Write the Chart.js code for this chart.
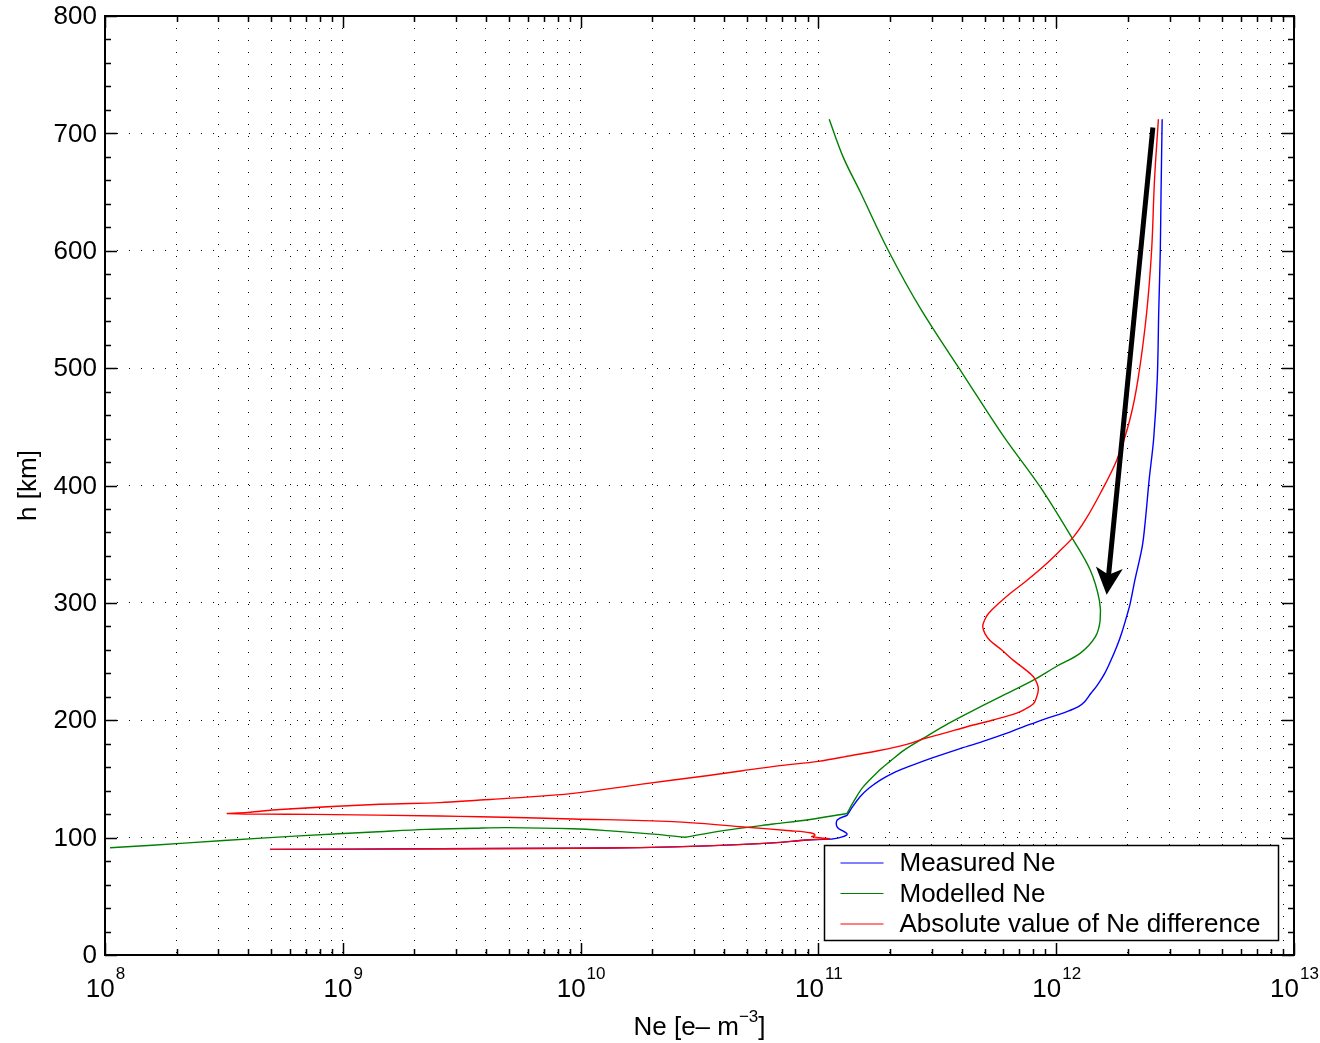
<!DOCTYPE html>
<html>
<head>
<meta charset="utf-8">
<title>Ne profile</title>
<script src="https://cdn.jsdelivr.net/npm/chart.js@4.4.1/dist/chart.umd.min.js"></script>
<style>
  html, body { margin: 0; padding: 0; background: #fff; }
  #wrap { width: 1320px; height: 1043px; }
</style>
</head>
<body>
<div id="wrap"><canvas id="chart" width="1320" height="1043"></canvas></div>
<script>
// ============================================
// Data
// ============================================
const seriesLabels = ['Measured Ne', 'Modelled Ne', 'Absolute value of Ne difference'];
const seriesColors = ['#0000ff', '#008000', '#ff0000'];

// Measured Ne (repeated points mark sharp corners)
const measuredH = [712, 650, 600, 550, 490, 440, 405, 370, 348, 319, 300, 291, 275, 263, 250, 240, 230, 223, 216, 211.6,
  208, 205, 202, 198, 194, 189, 182, 175, 168, 160, 155, 149, 142, 135, 127, 119, 119, 115, 109, 103, 100, 98.8, 98.8,
  98, 95.5, 93, 91.5, 91, 90.5, 90];
const measuredNe = [2.79e12, 2.76e12, 2.74e12, 2.70e12, 2.66e12, 2.57e12, 2.46e12, 2.37e12, 2.30e12, 2.14e12,
  2.05e12, 1.995e12, 1.89e12, 1.80e12, 1.69e12, 1.60e12, 1.49e12, 1.40e12, 1.32e12, 1.24e12,
  1.13e12, 1.03e12, 9.25e11, 8.15e11, 7.18e11, 6.21e11, 4.92e11, 3.83e11, 3.01e11, 2.36e11,
  2.06e11, 1.82e11, 1.63e11, 1.50e11, 1.40e11, 1.32e11, 1.32e11, 1.20e11, 1.20e11, 1.32e11, 1.23e11, 1.14e11, 1.14e11,
  8.95e10, 6.44e10, 3.40e10, 1.78e10, 9.3e9, 2.56e9, 4.94e8];

// Modelled Ne
const modelledH = [712, 680, 650, 600, 550, 492, 442, 399, 356, 328, 302, 285, 271, 257, 246, 234, 220, 206, 195, 185,
  175, 165, 158, 143, 130, 120.6, 120.6, 115, 111.6, 106, 100.3, 100.3, 103, 106, 107.6, 108.5, 108, 107, 105, 101.5,
  97.5, 93.5, 91.4];
const modelledNe = [1.11e11, 1.27e11, 1.50e11, 1.97e11, 2.70e11, 4.14e11, 6.00e11, 8.55e11, 1.16e12, 1.39e12,
  1.52e12, 1.53e12, 1.46e12, 1.26e12, 1.005e12, 7.98e11, 5.81e11, 4.26e11, 3.37e11, 2.78e11,
  2.31e11, 2.00e11, 1.82e11, 1.54e11, 1.40e11, 1.32e11, 1.32e11, 8.93e10, 6.47e10, 3.98e10,
  2.75e10, 2.75e10, 2.02e10, 1.29e10, 9.31e9, 4.89e9, 3.55e9, 2.24e9, 1.41e9, 6.55e8,
  3.16e8, 1.58e8, 1.05e8];

// Absolute value of Ne difference
const diffH = [712, 660, 601, 547, 491, 456, 422, 393, 370, 356, 343, 331, 318, 308, 299, 291, 285, 280, 274, 268,
  260, 251, 244, 237, 231, 226, 220, 214, 210, 206, 200, 194.5, 189, 184.6, 179.5, 174, 170, 165, 161.3, 157,
  152.7, 145.4, 137.7, 133.4, 132, 129.8, 128.4, 124, 121.5, 120.6, 120.6, 120, 119.8, 118.4, 117.8, 115.9, 113.6, 109.3, 105.9, 104.2, 102.2,
  100.8, 99, 99, 98, 95.5, 93, 91.5, 91, 90.5, 90];
const diffNe = [2.69e12, 2.59e12, 2.52e12, 2.40e12, 2.21e12, 2.04e12, 1.80e12, 1.53e12, 1.32e12, 1.18e12,
  1.02e12, 8.83e11, 7.41e11, 6.40e11, 5.69e11, 5.19e11, 4.99e11, 4.91e11, 5.01e11, 5.27e11,
  5.89e11, 6.61e11, 7.33e11, 8.02e11, 8.32e11, 8.41e11, 8.28e11, 8.02e11, 7.48e11, 6.82e11,
  5.37e11, 4.21e11, 3.39e11, 2.81e11, 2.35e11, 1.78e11, 1.38e11, 1.0e11, 6.89e10, 4.79e10,
  3.39e10, 1.78e10, 9.31e9, 4.89e9, 3.78e9, 2.56e9, 1.43e9, 5.45e8, 3.98e8, 3.25e8, 3.25e8,
  4.47e8, 7.52e8, 2.56e9, 3.78e9, 9.31e9, 2.45e10, 4.68e10, 7.60e10, 9.23e10, 9.68e10,
  9.38e10, 1.12e11, 1.12e11, 8.95e10, 6.44e10, 3.40e10, 1.78e10, 9.3e9, 2.56e9, 4.94e8];

// Arrow annotation (tail -> tip)
const arrowNe = [2.55e12, 1.63e12];
const arrowH = [705, 307];

// Axes
const xDecades = [1e8, 1e9, 1e10, 1e11, 1e12];
const xMinorSteps = [1, 2, 3, 4, 5, 6, 7, 8, 9];
const xLabelPowers = [8, 9, 10, 11, 12, 13];
const yMin = 0, yMax = 800, yMinorStep = 20;
const yLabels = [0, 100, 200, 300, 400, 500, 600, 700, 800];

const xTickValues = [];
xDecades.forEach(d => xMinorSteps.forEach(s => xTickValues.push(s * d)));
xTickValues.push(1e13);

function toPoints(ne, h) {
    return ne.map((v, i) => ({ x: v, y: h[i] }));
}

// ============================================
// Drawing helpers
// ============================================
const FONT = '"Liberation Sans", Arial, Helvetica, sans-serif';

function drawArrow(chart) {
    const { ctx, scales } = chart;
    const x0 = scales.x.getPixelForValue(arrowNe[0]), y0 = scales.y.getPixelForValue(arrowH[0]);
    const x1 = scales.x.getPixelForValue(arrowNe[1]), y1 = scales.y.getPixelForValue(arrowH[1]);
    const len = Math.hypot(x1 - x0, y1 - y0);
    const ux = (x1 - x0) / len, uy = (y1 - y0) / len;
    const px = -uy, py = ux;
    const headL = 27, headW = 13.5, notch = 20;

    ctx.save();
    ctx.strokeStyle = '#000';
    ctx.fillStyle = '#000';
    ctx.lineWidth = 5;
    ctx.beginPath();
    ctx.moveTo(x0, y0);
    ctx.lineTo(x1 - ux * (notch - 2), y1 - uy * (notch - 2));
    ctx.stroke();
    ctx.beginPath();
    ctx.moveTo(x1, y1);
    ctx.lineTo(x1 - ux * headL + px * headW, y1 - uy * headL + py * headW);
    ctx.lineTo(x1 - ux * notch, y1 - uy * notch);
    ctx.lineTo(x1 - ux * headL - px * headW, y1 - uy * headL - py * headW);
    ctx.closePath();
    ctx.fill();
    ctx.restore();
}

function drawFrame(chart) {
    const { ctx, chartArea: a, scales } = chart;
    ctx.save();
    ctx.strokeStyle = '#000';
    ctx.lineWidth = 1.5;

    // inward ticks on all four sides
    ctx.beginPath();
    xTickValues.forEach(v => {
        const x = Math.round(scales.x.getPixelForValue(v)) + 0.5;
        const major = Math.abs(Math.log10(v) - Math.round(Math.log10(v))) < 1e-9;
        const len = major ? 12 : 6;
        ctx.moveTo(x, a.bottom); ctx.lineTo(x, a.bottom - len);
        ctx.moveTo(x, a.top); ctx.lineTo(x, a.top + len);
    });
    for (let v = yMin; v <= yMax; v += yMinorStep) {
        const y = Math.round(scales.y.getPixelForValue(v)) + 0.5;
        const len = v % 100 === 0 ? 12 : 6;
        ctx.moveTo(a.left, y); ctx.lineTo(a.left + len, y);
        ctx.moveTo(a.right, y); ctx.lineTo(a.right - len, y);
    }
    ctx.stroke();

    ctx.lineWidth = 2;
    ctx.strokeRect(a.left, a.top, a.right - a.left, a.bottom - a.top);

    // y tick labels
    ctx.fillStyle = '#000';
    ctx.font = '26px ' + FONT;
    ctx.textAlign = 'right';
    ctx.textBaseline = 'middle';
    yLabels.forEach(v => {
        ctx.fillText(String(v), a.left - 8, scales.y.getPixelForValue(v) + 1);
    });

    // x tick labels: 10 with superscript power
    ctx.textAlign = 'left';
    ctx.textBaseline = 'alphabetic';
    xLabelPowers.forEach(p => {
        const x = scales.x.getPixelForValue(Math.pow(10, p));
        ctx.font = '26px ' + FONT;
        const wBase = ctx.measureText('10').width;
        ctx.font = '17px ' + FONT;
        const wExp = ctx.measureText(String(p)).width;
        const start = x - (wBase + wExp) / 2;
        ctx.font = '26px ' + FONT;
        ctx.fillText('10', start, a.bottom + 42);
        ctx.font = '17px ' + FONT;
        ctx.fillText(String(p), start + wBase + 1, a.bottom + 24);
    });

    // x axis title: Ne [e– m^-3]
    const t1 = 'Ne [e\u2013 m', t2 = '\u22123', t3 = ']';
    ctx.font = '26px ' + FONT;
    const w1 = ctx.measureText(t1).width, w3 = ctx.measureText(t3).width;
    ctx.font = '17px ' + FONT;
    const w2 = ctx.measureText(t2).width;
    const cx = (a.left + a.right) / 2;
    let sx = cx - (w1 + w2 + w3) / 2;
    ctx.font = '26px ' + FONT;
    ctx.fillText(t1, sx, 1035);
    ctx.font = '17px ' + FONT;
    ctx.fillText(t2, sx + w1, 1022);
    ctx.font = '26px ' + FONT;
    ctx.fillText(t3, sx + w1 + w2, 1035);

    // y axis title
    ctx.save();
    ctx.translate(36, (a.top + a.bottom) / 2);
    ctx.rotate(-Math.PI / 2);
    ctx.textAlign = 'center';
    ctx.font = '26px ' + FONT;
    ctx.fillText('h [km]', 0, 0);
    ctx.restore();

    ctx.restore();
}

function drawLegend(chart) {
    const { ctx, chartArea: a } = chart;
    const box = { left: 824.5, top: 845.5, right: a.right - 15.5, bottom: a.bottom - 14.5 };
    ctx.save();
    ctx.fillStyle = '#fff';
    ctx.fillRect(box.left, box.top, box.right - box.left, box.bottom - box.top);
    ctx.strokeStyle = '#000';
    ctx.lineWidth = 1.5;
    ctx.strokeRect(box.left, box.top, box.right - box.left, box.bottom - box.top);
    ctx.font = '26px ' + FONT;
    ctx.textAlign = 'left';
    ctx.textBaseline = 'middle';
    seriesLabels.forEach((label, i) => {
        const y = box.top + 17.5 + i * 30.5;
        ctx.strokeStyle = seriesColors[i];
        ctx.lineWidth = 1.2;
        ctx.beginPath();
        ctx.moveTo(box.left + 16, y);
        ctx.lineTo(box.left + 59, y);
        ctx.stroke();
        ctx.fillStyle = '#000';
        ctx.fillText(label, box.left + 75, y + 1);
    });
    ctx.restore();
}

const decorations = {
    id: 'decorations',
    afterDatasetsDraw(chart) {
        drawArrow(chart);
    },
    afterDraw(chart) {
        drawFrame(chart);
        drawLegend(chart);
    }
};

// ============================================
// Chart
// ============================================
const seriesData = [
    toPoints(measuredNe, measuredH),
    toPoints(modelledNe, modelledH),
    toPoints(diffNe, diffH)
];

new Chart(document.getElementById('chart'), {
    type: 'scatter',
    data: {
        datasets: seriesData.map((d, i) => ({
            label: seriesLabels[i],
            data: d,
            showLine: true,
            order: seriesData.length - 1 - i,   // later series drawn on top
            borderColor: seriesColors[i],
            backgroundColor: seriesColors[i],
            borderWidth: 1.4,
            pointRadius: 0,
            tension: 0.35
        }))
    },
    options: {
        responsive: false,
        animation: false,
        events: [],
        layout: { padding: { left: 105, right: 26, top: 16, bottom: 88 } },
        plugins: {
            legend: { display: false },
            tooltip: { enabled: false }
        },
        scales: {
            x: {
                type: 'logarithmic',
                min: 1e8,
                max: 1e13,
                afterBuildTicks: scale => {
                    scale.ticks = xTickValues.map(v => ({ value: v }));
                },
                ticks: { display: false },
                grid: { color: '#000', lineWidth: 1, drawTicks: false },
                border: { display: false, dash: [1, 11] }
            },
            y: {
                type: 'linear',
                min: yMin,
                max: yMax,
                ticks: { display: false, stepSize: yMinorStep },
                grid: {
                    color: ctx => (ctx.tick && ctx.tick.value % 100 === 0) ? '#000' : 'rgba(0,0,0,0)',
                    lineWidth: 1,
                    drawTicks: false
                },
                border: { display: false, dash: [1, 11] }
            }
        }
    },
    plugins: [decorations]
});
</script>
</body>
</html>
